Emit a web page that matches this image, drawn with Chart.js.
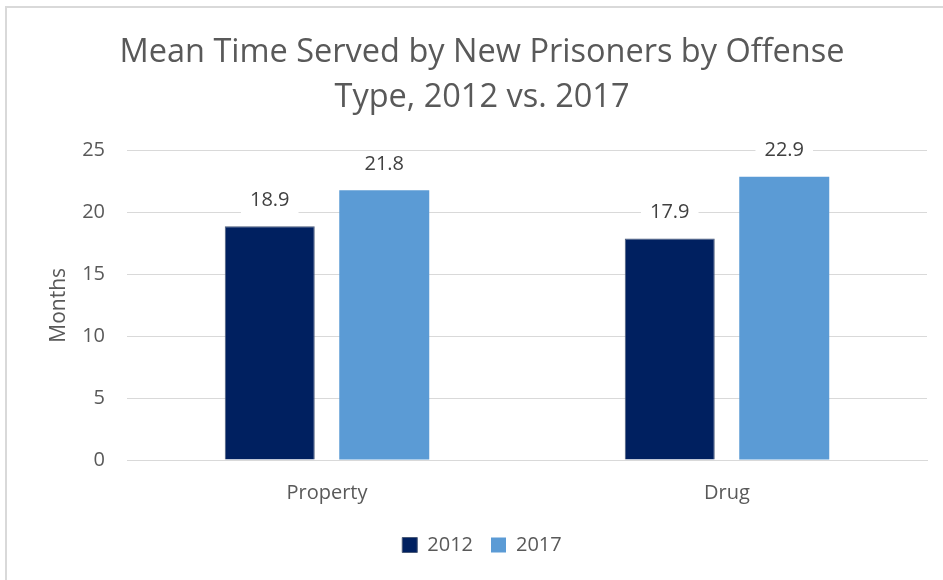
<!DOCTYPE html>
<html>
<head>
<meta charset="utf-8">
<script src="https://cdn.jsdelivr.net/npm/chart.js@4/dist/chart.umd.min.js"></script>
<style>
  html, body { margin: 0; padding: 0; background: #fff; }
  #wrap { width: 943px; height: 580px; position: relative; }
</style>
</head>
<body>
<div id="wrap"><canvas id="chart" width="943" height="580"></canvas></div>
<script>
// Chart data
const categories = ['Property', 'Drug'];
const years = ['2012', '2017'];
const values2012 = [18.9, 17.9];
const values2017 = [21.8, 22.9];
const yTicks = [0, 5, 10, 15, 20, 25];

const FONT = "'Open Sans', sans-serif";

// Draws the value above each bar on a white box, like the Excel data labels.
const valueLabels = {
    id: 'valueLabels',
    afterDatasetsDraw(chart) {
        const ctx = chart.ctx;
        ctx.save();
        ctx.font = `20px ${FONT}`;
        ctx.textAlign = 'center';
        ctx.textBaseline = 'middle';
        chart.data.datasets.forEach((ds, i) => {
            chart.getDatasetMeta(i).data.forEach((bar, j) => {
                const text = ds.data[j].toFixed(1);
                const w = ctx.measureText(text).width + 18;
                const cy = bar.y - 26;
                ctx.fillStyle = '#ffffff';
                ctx.fillRect(bar.x - w / 2, cy - 13, w, 26);
                ctx.fillStyle = '#404040';
                ctx.fillText(text, bar.x, cy);
            });
        });
        ctx.restore();
    }
};

// Top and left frame lines of the original chart object.
const frame = {
    id: 'frame',
    beforeDraw(chart) {
        const ctx = chart.ctx;
        ctx.save();
        ctx.strokeStyle = '#d9d9d9';
        ctx.lineWidth = 2;
        ctx.beginPath();
        ctx.moveTo(6, chart.height);
        ctx.lineTo(6, 7);
        ctx.lineTo(chart.width, 7);
        ctx.stroke();
        ctx.restore();
    }
};

new Chart(document.getElementById('chart'), {
    type: 'bar',
    data: {
        labels: categories,
        datasets: [
            {
                label: years[0],
                data: values2012,
                backgroundColor: '#002060',
                borderColor: '#4a5a78',
                borderWidth: 1
            },
            {
                label: years[1],
                data: values2017,
                backgroundColor: '#5b9bd5',
                borderColor: '#5b9bd5',
                borderWidth: 0
            }
        ]
    },
    options: {
        responsive: false,
        animation: false,
        devicePixelRatio: 1,
        categoryPercentage: 0.5725,
        barPercentage: 0.786,
        layout: { padding: { left: 37, right: 16, top: 0, bottom: 15 } },
        plugins: {
            title: {
                display: true,
                text: ['Mean Time Served by New Prisoners by Offense', 'Type, 2012 vs. 2017'],
                color: '#595959',
                font: { family: FONT, size: 32.5, weight: 'normal', lineHeight: 1.38 },
                padding: { top: 30, bottom: 31 }
            },
            legend: {
                position: 'bottom',
                labels: {
                    color: '#595959',
                    font: { family: FONT, size: 20 },
                    boxWidth: 15,
                    boxHeight: 15,
                    padding: 18
                }
            },
            tooltip: { enabled: false }
        },
        scales: {
            x: {
                grid: { display: false },
                border: { color: '#d9d9d9', width: 1 },
                ticks: { color: '#595959', font: { family: FONT, size: 20 }, padding: 13 },
                afterFit(scale) { scale.height = 57; }
            },
            y: {
                min: 0,
                max: 25,
                afterBuildTicks(scale) { scale.ticks = yTicks.map(v => ({ value: v })); },
                grid: { color: '#d9d9d9', lineWidth: 1, drawTicks: false },
                border: { display: false },
                ticks: { color: '#595959', font: { family: FONT, size: 20 }, padding: 22 },
                title: {
                    display: true,
                    text: 'Months',
                    color: '#595959',
                    font: { family: FONT, size: 21 },
                    padding: { top: 9, bottom: 0 }
                },
                afterFit(scale) { scale.width = 90; }
            }
        }
    },
    plugins: [frame, valueLabels]
});
</script>
</body>
</html>
